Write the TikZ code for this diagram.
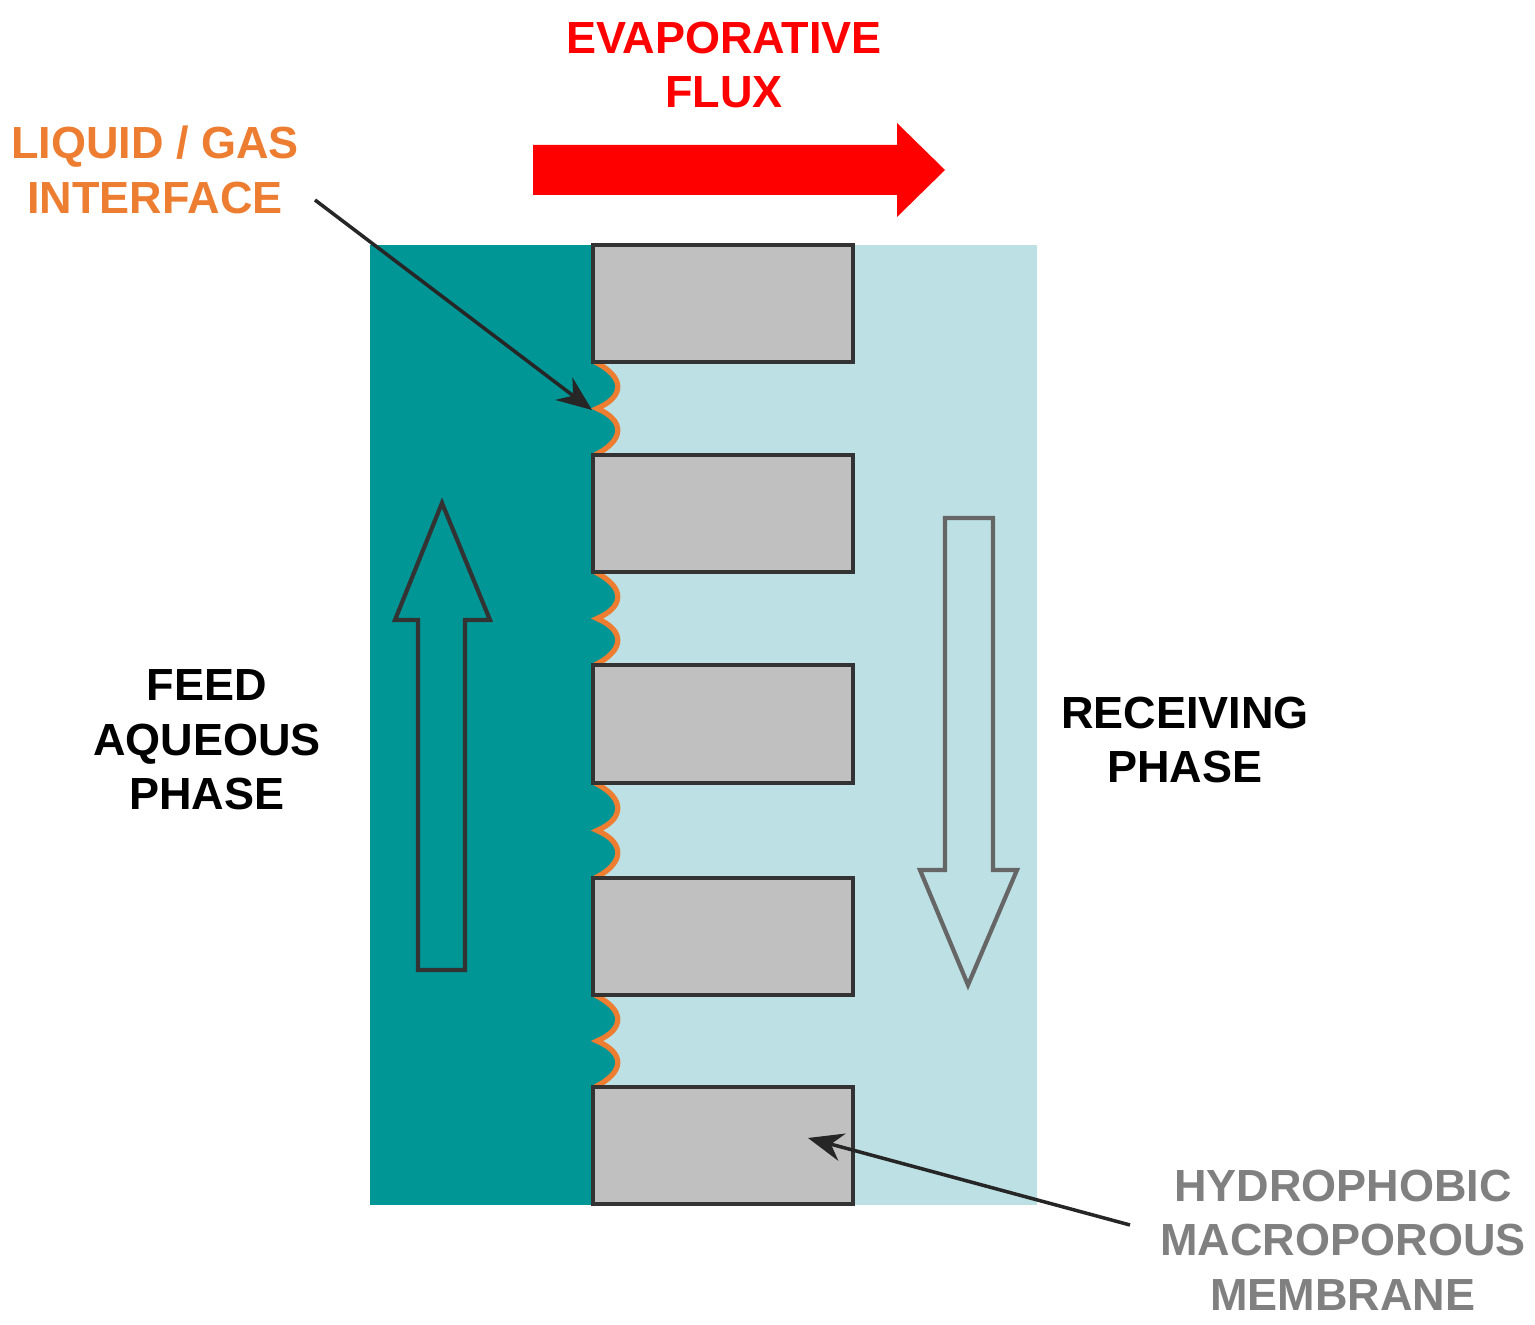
\documentclass[tikz,border=0pt]{standalone}
\usepackage{fontspec}
\setmainfont{Liberation Sans}
\usetikzlibrary{arrows.meta}
\definecolor{teal1}{RGB}{0,150,150}
\definecolor{light1}{RGB}{188,224,227}
\definecolor{gray1}{RGB}{192,192,192}
\definecolor{org}{RGB}{237,125,49}
\definecolor{txtgray}{RGB}{128,128,128}
\begin{document}
\begin{tikzpicture}[x=0.01cm,y=-0.01cm,
  lbl/.style={font=\fontsize{12.8}{15.5}\selectfont\bfseries,align=center,inner sep=0},
  pore/.style={draw=black!80,line width=1.2pt,fill=gray1},
  men/.style={draw=org,line width=1.5pt},
  ptr/.style={draw=black!85,line width=1pt,-{Stealth[length=10pt,width=8pt]}}]
\useasboundingbox (0,0) rectangle (1535,1325);
\fill[light1] (595,245) rectangle (1037,1205);
\fill[teal1] (370,245) rectangle (595,1205);
% menisci
\foreach \a/\b in {362/455,572/665,783/878,995/1087}{
  \pgfmathsetmacro\m{(\a+\b)/2}
  \fill[teal1] (595,\a) .. controls (625,\a+15) and (625,\m-12) .. (597,\m) .. controls (625,\m+12) and (625,\b-15) .. (595,\b) -- cycle;
  \draw[men] (595,\a) .. controls (625,\a+15) and (625,\m-12) .. (597,\m) .. controls (625,\m+12) and (625,\b-15) .. (595,\b);
}
\foreach \a/\b [count=\i] in {245/362,455/572,665/783,878/995,1087/1204}
  \draw[pore] (593,\a) rectangle (853,\b) node[midway,inner sep=0] (p\i) {};
% flow arrows
\draw[black!80,line width=1.2pt,fill=teal1] (418,970) -- (418,620) -- (395,620) -- (442,503) -- (490,620) -- (465,620) -- (465,970) -- cycle;
\draw[black!60,line width=1.2pt,fill=light1] (945,518) -- (945,870) -- (920,870) -- (968,985) -- (1017,870) -- (993,870) -- (993,518) -- cycle;
\fill[red] (533,145) -- (897,145) -- (897,123) -- (945,170) -- (897,217) -- (897,195) -- (533,195) -- cycle;
% texts
\node[lbl,text=red] (ev) at (724,65) {EVAPORATIVE\\FLUX};
\node[lbl,text=org] (lg) at (155,170) {LIQUID / GAS\\INTERFACE};
\node[lbl] (feed) at (207,740) {FEED\\AQUEOUS\\PHASE};
\node[lbl] (rec) at (1185,740) {RECEIVING\\PHASE};
\node[lbl,text=txtgray] (mem) at (1343,1240) {HYDROPHOBIC\\MACROPOROUS\\MEMBRANE};
\coordinate (s1) at (315,200);
\coordinate (t1) at (592,410);
\coordinate (s2) at (1130,1225);
\coordinate (t2) at (808,1138);
\draw[ptr] (s1) -- (t1);
\draw[ptr] (s2) -- (t2);
\end{tikzpicture}
\end{document}
